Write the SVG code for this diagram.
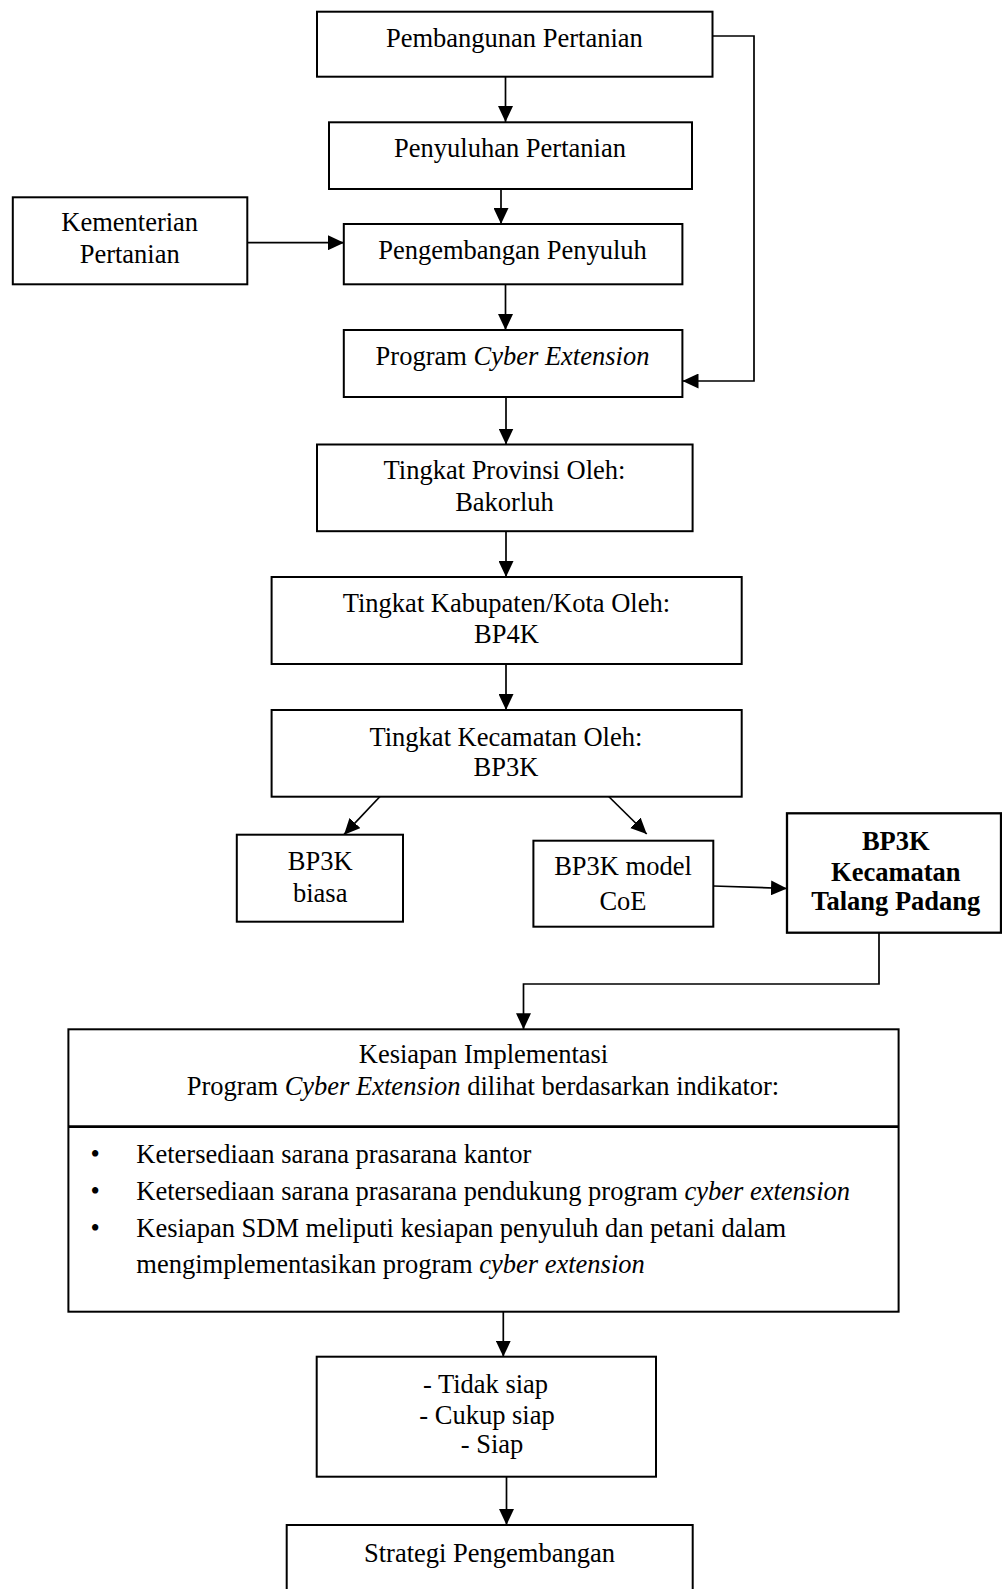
<svg xmlns="http://www.w3.org/2000/svg" width="1002" height="1589" viewBox="0 0 1002 1589">
<style>
  .box { fill: #fff; stroke: #000; stroke-width: 2; }
  .conn { fill: none; stroke: #000; stroke-width: 1.7; }
  text { font-family: "Liberation Serif", "Times New Roman", serif; font-size: 26.5px; fill: #000; }
  .c { text-anchor: middle; }
  .b { font-weight: bold; }
  .i { font-style: italic; }
</style>
<defs>
  <marker id="arr" viewBox="0 0 16 15" refX="16" refY="7.5" markerWidth="16" markerHeight="15" markerUnits="userSpaceOnUse" orient="auto">
    <path d="M0,0 L16,7.5 L0,15 z" fill="#000"/>
  </marker>
</defs>
<rect width="1002" height="1589" fill="#fff"/>

<g id="connectors">
  <line class="conn" x1="505.5" y1="77" x2="505.5" y2="122" marker-end="url(#arr)"/>
  <line class="conn" x1="501" y1="189" x2="501" y2="224" marker-end="url(#arr)"/>
  <line class="conn" x1="247" y1="242.7" x2="344" y2="242.7" marker-end="url(#arr)"/>
  <line class="conn" x1="505.5" y1="284.3" x2="505.5" y2="330" marker-end="url(#arr)"/>
  <polyline class="conn" points="712.5,36 754,36 754,381 682.5,381" marker-end="url(#arr)"/>
  <line class="conn" x1="506" y1="397" x2="506" y2="444.5" marker-end="url(#arr)"/>
  <line class="conn" x1="506" y1="531.2" x2="506" y2="577" marker-end="url(#arr)"/>
  <line class="conn" x1="506" y1="664" x2="506" y2="710" marker-end="url(#arr)"/>
  <line class="conn" x1="380" y1="796.5" x2="344" y2="834.7" marker-end="url(#arr)"/>
  <line class="conn" x1="608.7" y1="796.5" x2="646.7" y2="834" marker-end="url(#arr)"/>
  <line class="conn" x1="713.3" y1="886" x2="787" y2="888.5" marker-end="url(#arr)"/>
  <polyline class="conn" points="879,933 879,984 523.5,984 523.5,1029.3" marker-end="url(#arr)"/>
  <line class="conn" x1="503.3" y1="1311.7" x2="503.3" y2="1356.7" marker-end="url(#arr)"/>
  <line class="conn" x1="506.5" y1="1476.7" x2="506.5" y2="1525" marker-end="url(#arr)"/>
</g>

<g id="n-pembangunan">
  <rect class="box" x="317" y="11.7" width="395.5" height="65"/>
  <text class="c" x="514.4" y="47">Pembangunan Pertanian</text>
</g>
<g id="n-penyuluhan">
  <rect class="box" x="329" y="122.3" width="363" height="66.7"/>
  <text class="c" x="510" y="157">Penyuluhan Pertanian</text>
</g>
<g id="n-kementerian">
  <rect class="box" x="12.8" y="197.3" width="234.5" height="87"/>
  <text class="c" x="129.7" y="231">Kementerian</text>
  <text class="c" x="129.7" y="263.3">Pertanian</text>
</g>
<g id="n-pengembangan">
  <rect class="box" x="343.8" y="224" width="338.6" height="60.3"/>
  <text class="c" x="512.5" y="259">Pengembangan Penyuluh</text>
</g>
<g id="n-program">
  <rect class="box" x="343.8" y="330" width="338.6" height="67"/>
  <text class="c" x="512.5" y="365">Program <tspan class="i">Cyber Extension</tspan></text>
</g>
<g id="n-provinsi">
  <rect class="box" x="317" y="444.5" width="375.6" height="86.7"/>
  <text class="c" x="504.5" y="479">Tingkat Provinsi Oleh:</text>
  <text class="c" x="504.5" y="510.5">Bakorluh</text>
</g>
<g id="n-kabupaten">
  <rect class="box" x="271.6" y="577" width="470.1" height="87"/>
  <text class="c" x="506.4" y="611.5">Tingkat Kabupaten/Kota Oleh:</text>
  <text class="c" x="506.4" y="643">BP4K</text>
</g>
<g id="n-kecamatan">
  <rect class="box" x="271.6" y="710" width="470.1" height="86.7"/>
  <text class="c" x="505.9" y="745.5">Tingkat Kecamatan Oleh:</text>
  <text class="c" x="505.9" y="776">BP3K</text>
</g>
<g id="n-biasa">
  <rect class="box" x="236.8" y="834.7" width="166.2" height="87"/>
  <text class="c" x="320.2" y="870">BP3K</text>
  <text class="c" x="320.2" y="901.6">biasa</text>
</g>
<g id="n-coe">
  <rect class="box" x="533.4" y="840.7" width="179.9" height="86"/>
  <text class="c" x="623" y="875.3">BP3K model</text>
  <text class="c" x="623" y="910.3">CoE</text>
</g>
<g id="n-talang">
  <rect class="box" x="787" y="813.3" width="214" height="119.4" style="stroke-width:2.3"/>
  <text class="c b" x="895.8" y="850">BP3K</text>
  <text class="c b" x="895.8" y="880.7">Kecamatan</text>
  <text class="c b" x="895.8" y="910">Talang Padang</text>
</g>
<g id="n-kesiapan">
  <rect class="box" x="68.4" y="1029.3" width="830.2" height="282.4"/>
  <line x1="68.4" y1="1126.7" x2="898.6" y2="1126.7" stroke="#000" stroke-width="2.8"/>
  <text class="c" x="483.5" y="1063">Kesiapan Implementasi</text>
  <text class="c" x="483" y="1095">Program <tspan class="i">Cyber Extension</tspan> dilihat berdasarkan indikator:</text>
  <text x="90.5" y="1163">•</text>
  <text x="136.3" y="1163">Ketersediaan sarana prasarana kantor</text>
  <text x="90.5" y="1200">•</text>
  <text x="136.3" y="1200">Ketersediaan sarana prasarana pendukung program <tspan class="i">cyber extension</tspan></text>
  <text x="90.5" y="1236.5">•</text>
  <text x="136.3" y="1236.5">Kesiapan SDM meliputi kesiapan penyuluh dan petani dalam</text>
  <text x="136.3" y="1273">mengimplementasikan program <tspan class="i">cyber extension</tspan></text>
</g>
<g id="n-hasil">
  <rect class="box" x="316.7" y="1356.7" width="339.3" height="120"/>
  <text class="c" x="485.5" y="1393.3">- Tidak siap</text>
  <text class="c" x="487" y="1424">- Cukup siap</text>
  <text class="c" x="492" y="1453.3">- Siap</text>
</g>
<g id="n-strategi">
  <rect class="box" x="286.7" y="1525" width="406" height="90"/>
  <text class="c" x="489.5" y="1561.7">Strategi Pengembangan</text>
</g>
</svg>
